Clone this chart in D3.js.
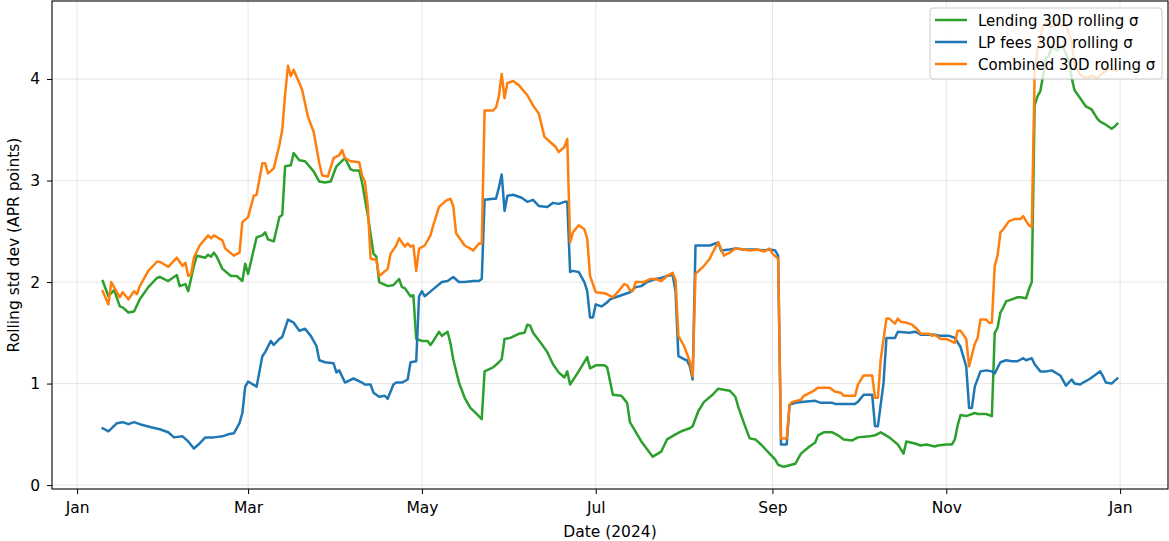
<!DOCTYPE html>
<html>
<head>
<meta charset="utf-8">
<script src="https://cdn.jsdelivr.net/npm/d3@7"></script>
<style>
  body { margin: 0; background: #fff; }
  text { font-family: "DejaVu Sans", sans-serif; }
</style>
</head>
<body>
<div id="chart"></div>
<script>
var w = 1169, h = 541;
var margin = { top: 1, right: 1, bottom: 52, left: 52 };

// Day of year 2024 (0 = Jan 1) and 30D rolling std dev
var lending = [
  [9,2.01],[11,1.86],[13,1.92],[15,1.76],[16,1.75],[18,1.70],[20,1.71],[22,1.83],[25,1.95],[28,2.04],
  [29,2.05],[32,2.01],[35,2.07],[36,1.96],[38,1.98],[39,1.91],[41,2.16],[42,2.26],[45,2.24],[46,2.27],
  [47,2.25],[48,2.29],[49,2.25],[51,2.13],[54,2.06],[56,2.06],[58,2.01],[59,2.18],[60,2.08],[63,2.44],
  [65,2.46],[66,2.49],[67,2.42],[69,2.40],[71,2.64],[72,2.66],[73,3.14],[75,3.15],[76,3.27],[78,3.20],
  [80,3.19],[83,3.09],[85,2.99],[87,2.98],[89,2.99],[91,3.14],[94,3.22],[96,3.11],[97,3.10],[99,3.10],
  [100,2.98],[102,2.66],[104,2.28],[105,2.25],[106,2.00],[109,1.96],[111,1.97],[113,2.03],[114,1.95],[115,1.94],
  [117,1.86],[118,1.87],[119,1.44],[121,1.42],[123,1.42],[124,1.38],[125,1.42],[127,1.51],[128,1.47],[130,1.51],
  [131,1.40],[132,1.24],[134,1.01],[136,0.86],[138,0.76],[141,0.68],[142,0.65],[143,1.12],[146,1.16],[148,1.21],
  [149,1.24],[150,1.44],[152,1.45],[155,1.49],[157,1.50],[158,1.58],[159,1.57],[160,1.50],[163,1.39],[165,1.31],
  [167,1.19],[169,1.11],[171,1.06],[172,1.12],[173,0.99],[176,1.12],[179,1.26],[180,1.15],[182,1.18],[185,1.18],
  [186,1.16],[188,0.89],[191,0.88],[193,0.81],[194,0.62],[198,0.43],[202,0.28],[205,0.33],[207,0.45],[210,0.50],
  [212,0.53],[215,0.56],[216,0.58],[218,0.73],[220,0.82],[223,0.89],[225,0.95],[229,0.93],[231,0.87],[232,0.77],
  [234,0.61],[236,0.46],[238,0.45],[240,0.40],[243,0.31],[245,0.25],[246,0.20],[248,0.18],[252,0.21],[254,0.31],
  [257,0.38],[259,0.42],[260,0.49],[262,0.52],[265,0.52],[267,0.49],[269,0.45],[272,0.44],[274,0.47],[278,0.48],
  [280,0.49],[282,0.52],[285,0.47],[288,0.40],[290,0.31],[291,0.43],[294,0.41],[296,0.39],[298,0.40],[301,0.38],
  [302,0.39],[305,0.40],[307,0.40],[308,0.45],[309,0.59],[310,0.69],[312,0.68],[315,0.71],[316,0.70],[319,0.70],
  [321,0.68],[322,1.50],[323,1.55],[324,1.70],[325,1.75],[326,1.81],[328,1.83],[330,1.85],[331,1.85],[333,1.84],
  [334,1.93],[335,2.00],[336,3.74],[337,3.83],[338,3.88],[339,4.04],[340,4.21],[341,4.23],[342,4.32],[344,4.28],
  [345,4.32],[346,4.31],[348,4.18],[349,4.01],[350,3.89],[352,3.81],[354,3.73],[356,3.70],[358,3.61],[359,3.58],
  [361,3.55],[363,3.51],[364,3.53],[365,3.56]
];

var lpFees = [
  [9,0.56],[11,0.53],[14,0.61],[16,0.62],[18,0.60],[20,0.62],[22,0.60],[26,0.57],[29,0.55],[32,0.52],
  [34,0.47],[37,0.48],[39,0.43],[41,0.36],[43,0.41],[45,0.47],[48,0.47],[51,0.48],[53,0.50],[55,0.51],
  [57,0.61],[58,0.71],[59,0.97],[60,1.02],[63,0.97],[65,1.27],[66,1.31],[68,1.42],[69,1.38],[71,1.44],
  [72,1.46],[74,1.63],[76,1.60],[78,1.52],[80,1.54],[82,1.47],[84,1.37],[85,1.23],[87,1.21],[90,1.20],
  [91,1.11],[92,1.13],[94,1.01],[97,1.05],[100,1.01],[101,0.99],[103,0.99],[104,0.91],[106,0.87],[108,0.88],
  [109,0.85],[111,0.99],[112,1.01],[114,1.01],[116,1.04],[117,1.21],[119,1.22],[120,1.86],[121,1.91],[122,1.86],
  [125,1.93],[128,2.00],[130,2.01],[132,2.05],[134,2.00],[136,2.00],[139,2.01],[141,2.01],[142,2.03],[143,2.81],
  [146,2.82],[147,2.82],[148,2.93],[149,3.06],[150,2.70],[151,2.85],[153,2.86],[156,2.83],[158,2.79],[160,2.81],
  [162,2.75],[165,2.74],[167,2.78],[169,2.77],[171,2.79],[172,2.79],[173,2.10],[174,2.11],[176,2.10],[178,2.00],
  [179,1.91],[180,1.65],[181,1.65],[182,1.78],[184,1.76],[186,1.80],[187,1.83],[189,1.85],[191,1.87],[193,1.89],
  [194,1.90],[196,1.95],[198,1.96],[200,2.00],[203,2.03],[205,2.04],[207,2.06],[209,2.07],[210,1.91],[211,1.27],
  [213,1.24],[214,1.23],[215,1.17],[216,1.04],[217,2.36],[222,2.36],[223,2.37],[225,2.39],[226,2.31],[229,2.32],
  [231,2.33],[234,2.32],[238,2.32],[241,2.31],[243,2.32],[245,2.31],[246,2.26],[247,0.40],[249,0.40],[250,0.79],
  [252,0.81],[255,0.82],[259,0.83],[261,0.81],[265,0.81],[266,0.80],[269,0.80],[273,0.80],[274,0.82],[276,0.89],
  [279,0.89],[280,0.58],[281,0.58],[283,1.01],[284,1.45],[287,1.45],[288,1.51],[292,1.50],[294,1.51],[295,1.50],
  [296,1.48],[297,1.48],[301,1.48],[303,1.47],[306,1.47],[308,1.45],[310,1.36],[312,1.17],[313,0.76],[314,0.76],
  [315,0.97],[317,1.12],[319,1.13],[321,1.12],[322,1.10],[324,1.21],[326,1.23],[328,1.22],[330,1.22],[332,1.25],
  [333,1.23],[335,1.25],[336,1.19],[338,1.12],[340,1.12],[342,1.13],[345,1.08],[347,0.98],[349,1.04],[350,1.00],
  [352,0.99],[353,1.01],[355,1.04],[357,1.08],[359,1.12],[360,1.07],[361,1.01],[363,1.00],[365,1.05]
];

var combined = [
  [9,1.91],[11,1.78],[12,2.00],[15,1.85],[16,1.90],[18,1.83],[20,1.91],[21,1.88],[22,1.96],[25,2.11],
  [28,2.20],[29,2.20],[32,2.15],[35,2.24],[37,2.16],[38,2.19],[39,2.06],[40,2.08],[41,2.24],[43,2.36],
  [46,2.46],[47,2.43],[48,2.46],[51,2.41],[52,2.33],[55,2.26],[57,2.29],[58,2.59],[60,2.64],[62,2.85],
  [63,2.86],[65,3.17],[66,3.17],[67,3.07],[69,3.12],[71,3.35],[72,3.50],[73,3.85],[74,4.13],[75,4.03],
  [76,4.09],[78,3.96],[79,3.89],[81,3.63],[83,3.48],[85,3.17],[86,3.05],[88,3.04],[90,3.22],[92,3.25],
  [93,3.30],[94,3.22],[96,3.19],[99,3.18],[100,3.05],[101,2.99],[102,2.75],[103,2.23],[105,2.22],[106,2.06],
  [109,2.13],[110,2.28],[112,2.36],[113,2.43],[115,2.35],[116,2.38],[117,2.35],[118,2.36],[119,2.11],[120,2.33],
  [122,2.36],[124,2.46],[125,2.56],[127,2.74],[129,2.79],[130,2.81],[131,2.82],[132,2.75],[133,2.48],[136,2.36],
  [138,2.33],[139,2.31],[141,2.38],[142,2.38],[143,3.69],[146,3.69],[147,3.72],[148,3.83],[149,4.05],[150,3.81],
  [151,3.96],[153,3.98],[155,3.94],[158,3.84],[160,3.74],[162,3.66],[164,3.43],[166,3.38],[168,3.33],[169,3.28],
  [171,3.33],[172,3.41],[173,2.39],[174,2.49],[176,2.56],[178,2.52],[179,2.43],[180,2.06],[182,1.90],[185,1.89],
  [186,1.88],[188,1.85],[190,1.91],[192,1.98],[193,1.97],[194,1.92],[195,1.91],[196,2.00],[199,2.00],[201,2.03],
  [203,2.03],[205,2.01],[207,2.06],[209,2.09],[210,2.02],[211,1.47],[213,1.37],[215,1.22],[216,1.07],[217,2.08],
  [220,2.16],[222,2.23],[223,2.29],[225,2.39],[227,2.26],[229,2.29],[231,2.33],[234,2.32],[236,2.31],[239,2.32],
  [241,2.30],[243,2.33],[244,2.28],[246,2.23],[247,0.46],[249,0.46],[250,0.79],[251,0.82],[254,0.84],[255,0.88],
  [258,0.92],[260,0.96],[264,0.96],[266,0.92],[268,0.91],[269,0.88],[273,0.88],[274,0.99],[276,1.08],[279,1.08],
  [280,0.86],[281,0.86],[282,1.24],[284,1.64],[285,1.64],[287,1.59],[288,1.64],[289,1.61],[291,1.60],[293,1.58],
  [295,1.53],[296,1.49],[299,1.49],[300,1.47],[301,1.48],[303,1.44],[305,1.44],[308,1.40],[309,1.52],[310,1.52],
  [312,1.44],[313,1.17],[315,1.39],[316,1.45],[317,1.63],[319,1.63],[320,1.60],[321,1.60],[322,2.16],[323,2.26],
  [324,2.49],[325,2.52],[327,2.60],[329,2.62],[331,2.62],[332,2.65],[333,2.60],[334,2.56],[335,2.54],[336,4.04],
  [337,4.30],[338,4.41],[339,4.53],[340,4.55],[342,4.51],[344,4.55],[345,4.53],[347,4.53],[348,4.45],[349,4.37],
  [350,4.14],[352,4.04],[354,4.01],[356,4.03],[358,4.01],[360,4.06],[362,4.10],[365,4.08]
];

var seriesNames = ["Lending 30D rolling σ", "LP fees 30D rolling σ", "Combined 30D rolling σ"];
var seriesColors = ["#2ca02c", "#1f77b4", "#ff7f0e"];
var yTicks = [0, 1, 2, 3, 4];

var start = new Date(2024, 0, 1);
function toPoints(arr) {
  return arr.map(function(d) {
    return { date: d3.timeDay.offset(start, d[0]), value: d[1] };
  });
}
var series = [lending, lpFees, combined].map(toPoints);
var all = d3.merge(series);

var iw = w - margin.left - margin.right;
var ih = h - margin.top - margin.bottom;

// matplotlib style 5% margins around the data
var tExt = d3.extent(all, function(d) { return +d.date; });
var tPad = (tExt[1] - tExt[0]) * 0.05;
var vExt = d3.extent(all, function(d) { return d.value; });
var vPad = (vExt[1] - vExt[0]) * 0.05;

var x = d3.scaleTime()
  .domain([new Date(tExt[0] - tPad), new Date(tExt[1] + tPad)])
  .range([0, iw]);

var y = d3.scaleLinear()
  .domain([vExt[0] - vPad, vExt[1] + vPad])
  .range([ih, 0]);

var svg = d3.select("#chart")
  .append("svg")
  .attr("width", w)
  .attr("height", h);

var g = svg.append("g")
  .attr("transform", "translate(" + margin.left + "," + margin.top + ")");

var xTicks = x.ticks(d3.timeMonth.every(2));

// grid
g.append("g")
  .selectAll("line.vx")
  .data(xTicks)
  .enter().append("line")
  .attr("x1", function(d) { return x(d); })
  .attr("x2", function(d) { return x(d); })
  .attr("y1", 0).attr("y2", ih)
  .attr("stroke", "#b0b0b0").attr("stroke-opacity", 0.3).attr("stroke-width", 1);

g.append("g")
  .selectAll("line.hy")
  .data(yTicks)
  .enter().append("line")
  .attr("x1", 0).attr("x2", iw)
  .attr("y1", function(d) { return y(d); })
  .attr("y2", function(d) { return y(d); })
  .attr("stroke", "#b0b0b0").attr("stroke-opacity", 0.3).attr("stroke-width", 1);

// lines
var line = d3.line()
  .x(function(d) { return x(d.date); })
  .y(function(d) { return y(d.value); });

g.append("defs").append("clipPath").attr("id", "clip")
  .append("rect").attr("width", iw).attr("height", ih);

g.append("g").attr("clip-path", "url(#clip)")
  .selectAll("path")
  .data(series)
  .enter().append("path")
  .attr("d", line)
  .attr("fill", "none")
  .attr("stroke", function(d, i) { return seriesColors[i]; })
  .attr("stroke-width", 2.5)
  .attr("stroke-linejoin", "round")
  .attr("stroke-linecap", "square");

// axes
var xAxis = g.append("g")
  .attr("transform", "translate(0," + ih + ")")
  .call(d3.axisBottom(x).tickValues(xTicks).tickFormat(d3.timeFormat("%b")).tickSize(5).tickPadding(8));

var yAxis = g.append("g")
  .call(d3.axisLeft(y).tickValues(yTicks).tickFormat(d3.format("d")).tickSize(5).tickPadding(7));

[xAxis, yAxis].forEach(function(a) {
  a.select(".domain").remove();
  a.selectAll("text").attr("font-size", 15.5).attr("fill", "#000")
    .style("font-family", "'DejaVu Sans', sans-serif");
  a.selectAll("line").attr("stroke", "#000");
});

// frame
g.append("rect")
  .attr("width", iw).attr("height", ih)
  .attr("fill", "none").attr("stroke", "#000").attr("stroke-width", 1.1);

// axis labels
svg.append("text")
  .attr("x", margin.left + iw / 2)
  .attr("y", 537)
  .attr("text-anchor", "middle")
  .attr("font-size", 15.5)
  .text("Date (2024)");

svg.append("text")
  .attr("transform", "translate(19," + (margin.top + ih / 2) + ") rotate(-90)")
  .attr("text-anchor", "middle")
  .attr("font-size", 15.5)
  .text("Rolling std dev (APR points)");

// legend
var legend = svg.append("g").attr("transform", "translate(930,8)");
legend.append("rect")
  .attr("width", 232).attr("height", 71)
  .attr("rx", 3).attr("ry", 3)
  .attr("fill", "#fff").attr("fill-opacity", 0.8)
  .attr("stroke", "#cccccc").attr("stroke-width", 1);

var items = legend.selectAll("g.item")
  .data(seriesNames)
  .enter().append("g")
  .attr("transform", function(d, i) { return "translate(0," + (12 + i * 22) + ")"; });

items.append("line")
  .attr("x1", 5).attr("x2", 37)
  .attr("stroke", function(d, i) { return seriesColors[i]; })
  .attr("stroke-width", 2.5);

items.append("text")
  .attr("x", 48).attr("y", 5.5)
  .attr("font-size", 15)
  .text(function(d) { return d; });
</script>
</body>
</html>
